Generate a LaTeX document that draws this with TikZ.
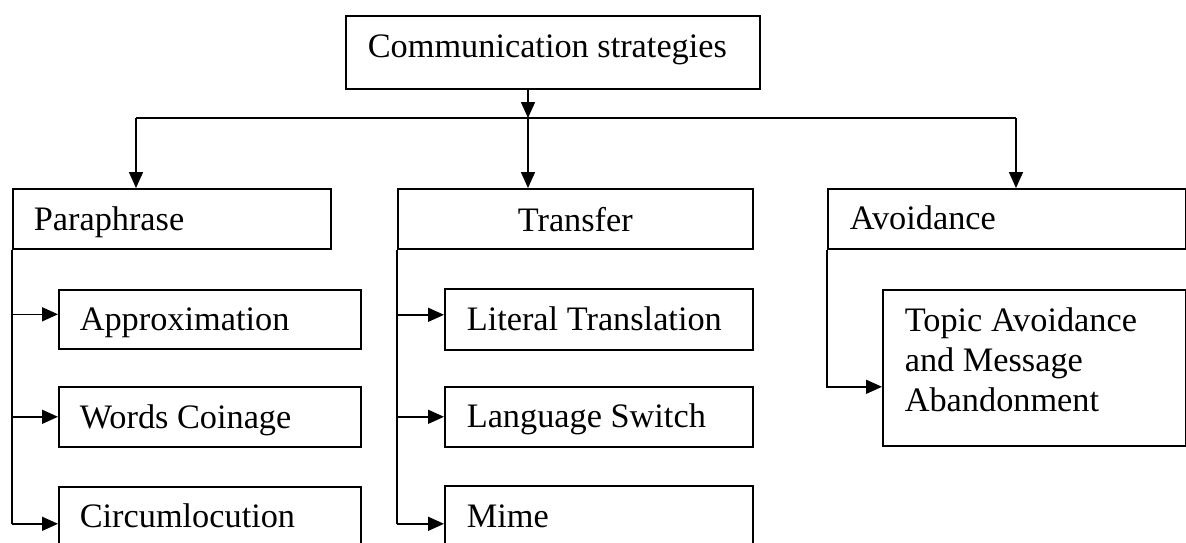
\documentclass[tikz,border=0pt]{standalone}
\usepackage{fontspec}
\setmainfont{Liberation Serif}
\usetikzlibrary{arrows.meta}
\begin{document}
\begin{tikzpicture}[x=1pt,y=-1pt,
  box/.style={draw, line width=1.6pt, inner ysep=0pt, inner xsep=22pt, anchor=north west,
    align=flush left, font=\fontsize{34.3}{40}\selectfont},
  conn/.style={line width=1.6pt},
  arr/.style={line width=1.6pt, -{Triangle[length=16pt,width=14pt]}}]
\useasboundingbox (0,0) rectangle (1186,542);
\clip (0,0) rectangle (1186,542);
% boxes
\node[box, text width=370pt, text height=42pt, text depth=31pt] (top) at (345,15) {Communication strategies};
\node[box, inner xsep=21pt, text width=276pt, text height=42pt, text depth=18pt] (para) at (12,188) {Paraphrase};
\node[box, align=flush center, text width=311pt, text height=43pt, text depth=17pt] (trans) at (397,188) {Transfer};
\node[box, text width=314pt, text height=41pt, text depth=19pt] (avoid) at (827,188) {Avoidance};
\node[box, inner xsep=21pt, text width=260pt, text height=41pt, text depth=18pt] (approx) at (58,289) {Approximation};
\node[box, inner xsep=21pt, text width=260pt, text height=42pt, text depth=18pt] (words) at (58,386) {Words Coinage};
\node[box, inner xsep=21pt, text width=260pt, text height=41pt, text depth=33pt] (circ) at (58,486) {Circumlocution};
\node[box, text width=264pt, text height=42pt, text depth=19pt] (lit) at (444,288) {Literal Translation};
\node[box, text width=264pt, text height=41pt, text depth=19pt] (lang) at (444,386) {Language Switch};
\node[box, text width=264pt, text height=42pt, text depth=34pt] (mime) at (444,485) {Mime};
\node[box, text width=259pt, text height=42pt, text depth=114pt] (topic) at (882,289) {Topic Avoidance\\and Message\\Abandonment};
% junctions
\coordinate (j) at (528,118);
\coordinate (jl) at (136,118);
\coordinate (jr) at (1016,118);
% top level connectors
\draw[arr] (top.south -| j) -- (j);
\draw[conn] (jl) -- (jr);
\draw[arr] (j) -- (j |- trans.north);
\draw[arr] (jl) -- (jl |- para.north);
\draw[arr] (jr) -- (jr |- avoid.north);
% paraphrase branch
\draw[conn] (para.south west) -- (para.south west |- circ.west);
\draw[arr] ([yshift=5pt]approx.west -| para.south west) -- ([yshift=5pt]approx.west);
\draw[arr] (words.west -| para.south west) -- (words.west);
\draw[arr] (circ.west -| para.south west) -- (circ.west);
% transfer branch
\draw[conn] (trans.south west) -- (trans.south west |- mime.west);
\draw[arr] ([yshift=4.5pt]lit.west -| trans.south west) -- ([yshift=4.5pt]lit.west);
\draw[arr] (lang.west -| trans.south west) -- (lang.west);
\draw[arr] (mime.west -| trans.south west) -- (mime.west);
% avoidance branch
\draw[arr] (avoid.south west) |- ([yshift=-19pt]topic.west);
\end{tikzpicture}
\end{document}
